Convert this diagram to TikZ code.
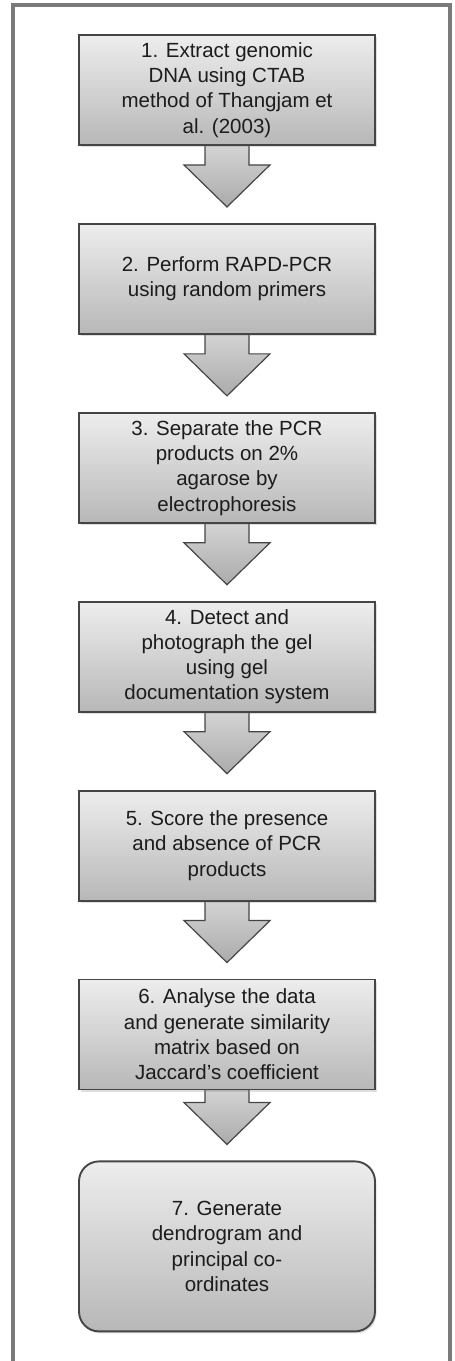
\documentclass[tikz,border=0pt]{standalone}
\usepackage{fontspec}
\setmainfont{Liberation Sans}
\usetikzlibrary{positioning,calc,backgrounds,shadows}
\definecolor{ink}{HTML}{1c1c1c}
\definecolor{edge}{HTML}{454545}
\definecolor{frame}{HTML}{7a7a7a}
\begin{document}
\begin{tikzpicture}[
   stepbox/.style={draw=edge,line width=1.9pt,minimum width=296pt,minimum height=110pt,
      top color=black!7,bottom color=black!28,align=center,inner sep=0pt,
      font=\fontsize{20.5}{25.3}\selectfont\color{ink},
      drop shadow={shadow xshift=1.5pt,shadow yshift=-2pt,opacity=0.25}},
   endbox/.style={stepbox,rounded corners=20pt,minimum height=170pt},
   flow/.style={draw=edge,line width=1.2pt,top color=black!17,bottom color=black!33}]
  \useasboundingbox (0,0) rectangle (455pt,-1361pt);
  \draw[frame,line width=4pt] (13pt,-1361pt) -- (13pt,-5pt) -- (450pt,-5pt) -- (450pt,-1361pt);
  % steps
  \node[stepbox] (extract) at (227pt,-90pt)
     {1. Extract genomic\\DNA using CTAB\\method of Thangjam et\\al. (2003)};
  \node[stepbox,below=77pt of extract] (rapd)
     {2. Perform RAPD-PCR\\using random primers};
  \node[stepbox,below=77pt of rapd] (separate)
     {3. Separate the PCR\\products on 2\%\\agarose by\\electrophoresis};
  \node[stepbox,below=77pt of separate] (detect)
     {4. Detect and\\photograph the gel\\using gel\\documentation system};
  \node[stepbox,below=77pt of detect] (score)
     {5. Score the presence\\and absence of PCR\\products};
  \node[stepbox,below=77pt of score] (analyse)
     {6. Analyse the data\\and generate similarity\\matrix based on\\Jaccard’s coefficient};
  \node[endbox,below=70pt of analyse] (dendro)
     {7. Generate\\dendrogram and\\principal co-\\ordinates};
  % block arrows
  \begin{scope}[on background layer]
    \foreach \a/\b in {extract/rapd,rapd/separate,separate/detect,detect/score,score/analyse,analyse/dendro}{
      \coordinate (tip) at ($(\b.north)+(0,16pt)$);
      \path[flow] ($(\a.south)+(-22pt,1pt)$) -- ($(tip)+(-22pt,42pt)$) -- ($(tip)+(-43pt,42pt)$)
         -- (tip) -- ($(tip)+(43pt,42pt)$) -- ($(tip)+(22pt,42pt)$) -- ($(\a.south)+(22pt,1pt)$) -- cycle;
    }
  \end{scope}
\end{tikzpicture}
\end{document}
